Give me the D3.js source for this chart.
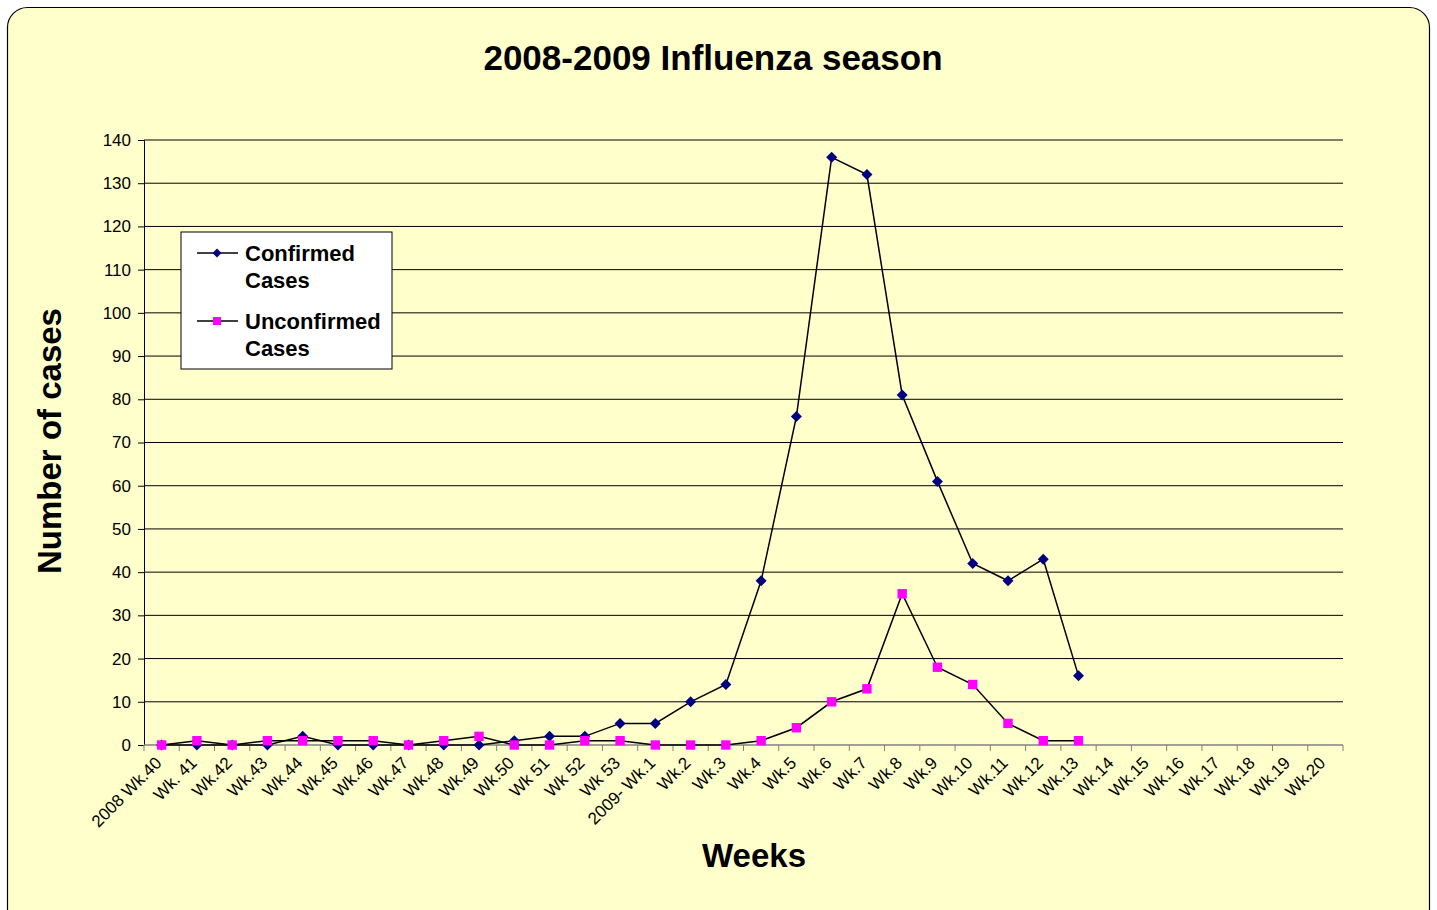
<!DOCTYPE html>
<html>
<head>
<meta charset="utf-8">
<script src="https://cdn.jsdelivr.net/npm/d3@7"></script>
<style>
  body { margin: 0; background: #fff; font-family: "Liberation Sans", Arial, sans-serif; }
</style>
</head>
<body>
<div id="chart"></div>
<script>
// week labels along the x axis
var weeks = ["2008 Wk.40", "Wk. 41", "Wk.42", "Wk.43", "Wk.44", "Wk.45", "Wk.46", "Wk.47",
  "Wk.48", "Wk.49", "Wk.50", "Wk 51", "Wk 52", "Wk 53", "2009- Wk.1", "Wk.2", "Wk.3",
  "Wk.4", "Wk.5", "Wk.6", "Wk.7", "Wk.8", "Wk.9", "Wk.10", "Wk.11", "Wk.12", "Wk.13",
  "Wk.14", "Wk.15", "Wk.16", "Wk.17", "Wk.18", "Wk.19", "Wk.20"];

var confirmed = [0, 0, 0, 0, 2, 0, 0, 0, 0, 0, 1, 2, 2, 5, 5, 10, 14, 38, 76, 136, 132, 81, 61, 42, 38, 43, 16];
var unconfirmed = [0, 1, 0, 1, 1, 1, 1, 0, 1, 2, 0, 0, 1, 1, 0, 0, 0, 1, 4, 10, 13, 35, 18, 14, 5, 1, 1];

var yTicks = [0, 10, 20, 30, 40, 50, 60, 70, 80, 90, 100, 110, 120, 130, 140];

var W = 1437, H = 910;
var margin = { left: 144, right: 94, top: 140, bottom: 165 };
var width = W - margin.left - margin.right;
var height = H - margin.top - margin.bottom;

var svg = d3.select("#chart").append("svg")
    .attr("width", W)
    .attr("height", H);

// chart area background
svg.append("rect")
    .attr("x", 7.5).attr("y", 7.5)
    .attr("width", 1422).attr("height", 930)
    .attr("rx", 20).attr("ry", 20)
    .attr("fill", "#ffffcc")
    .attr("stroke", "#000")
    .attr("stroke-width", 1.2);

svg.append("text")
    .attr("x", 713).attr("y", 70)
    .attr("text-anchor", "middle")
    .style("font-size", "35px").style("font-weight", "bold")
    .text("2008-2009 Influenza season");

var g = svg.append("g")
    .attr("transform", "translate(" + margin.left + "," + margin.top + ")");

var x = d3.scaleBand().domain(weeks).range([0, width]);
var y = d3.scaleLinear().domain([0, 140]).range([height, 0]);

// gridlines
g.selectAll(".grid")
    .data(yTicks.filter(function(d) { return d > 0; }))
    .enter().append("line")
    .attr("x1", 0).attr("x2", width)
    .attr("y1", function(d) { return y(d); })
    .attr("y2", function(d) { return y(d); })
    .attr("stroke", "#000")
    .attr("stroke-width", 1);

// y axis
var yAxis = d3.axisLeft(y).tickValues(yTicks).tickSize(6).tickPadding(7);
var ya = g.append("g").call(yAxis);
ya.select(".domain").attr("stroke", "#000");
ya.selectAll("text").style("font-size", "17px").style("font-family", "Liberation Sans, Arial, sans-serif").attr("fill", "#000");

// x axis: ticks between categories
var xa = g.append("g").attr("transform", "translate(0," + height + ")");
xa.append("line").attr("x1", 0).attr("x2", width).attr("stroke", "#808080").attr("stroke-width", 1.5);
xa.selectAll(".tk")
    .data(d3.range(weeks.length + 1))
    .enter().append("line")
    .attr("x1", function(i) { return i * x.step(); })
    .attr("x2", function(i) { return i * x.step(); })
    .attr("y1", 0).attr("y2", 6)
    .attr("stroke", "#808080");
xa.selectAll(".lbl")
    .data(weeks)
    .enter().append("text")
    .attr("text-anchor", "end")
    .attr("transform", function(d) {
        return "translate(" + (x(d) + x.bandwidth() / 2 + 1) + ",19) rotate(-45)";
    })
    .style("font-size", "17px")
    .text(function(d) { return d; });

// axis titles
svg.append("text")
    .attr("x", 754).attr("y", 867)
    .attr("text-anchor", "middle")
    .style("font-size", "33px").style("font-weight", "bold")
    .text("Weeks");

svg.append("text")
    .attr("transform", "translate(61,441) rotate(-90)")
    .attr("text-anchor", "middle")
    .style("font-size", "33px").style("font-weight", "bold")
    .text("Number of cases");

var line = d3.line()
    .x(function(d, i) { return x(weeks[i]) + x.bandwidth() / 2; })
    .y(function(d) { return y(d); });

function markerPath(shape, r) {
    if (shape === "diamond") return "M0," + (-r) + "L" + r + ",0L0," + r + "L" + (-r) + ",0Z";
    return "M" + (-r) + "," + (-r) + "H" + r + "V" + r + "H" + (-r) + "Z";
}

function drawSeries(data, shape, color, r) {
    g.append("path")
        .datum(data)
        .attr("fill", "none")
        .attr("stroke", "#000")
        .attr("stroke-width", 1.5)
        .attr("d", line);
    g.selectAll(".m" + shape)
        .data(data)
        .enter().append("path")
        .attr("transform", function(d, i) {
            return "translate(" + (x(weeks[i]) + x.bandwidth() / 2) + "," + y(d) + ")";
        })
        .attr("d", markerPath(shape, r))
        .attr("fill", color);
}

drawSeries(confirmed, "diamond", "#000080", 5.5);
drawSeries(unconfirmed, "square", "#ff00ff", 4.7);

// legend
var lg = svg.append("g").attr("transform", "translate(181,232)");
lg.append("rect")
    .attr("width", 211).attr("height", 137)
    .attr("fill", "#fff").attr("stroke", "#000");
var legendItems = [
    { lines: ["Confirmed", "Cases"], shape: "diamond", color: "#000080", r: 4.5, y: 21 },
    { lines: ["Unconfirmed", "Cases"], shape: "square", color: "#ff00ff", r: 4, y: 89 }
];
legendItems.forEach(function(it) {
    lg.append("line")
        .attr("x1", 16).attr("x2", 57)
        .attr("y1", it.y).attr("y2", it.y)
        .attr("stroke", "#000").attr("stroke-width", 1.5);
    lg.append("path")
        .attr("transform", "translate(36," + it.y + ")")
        .attr("d", markerPath(it.shape, it.r))
        .attr("fill", it.color);
    it.lines.forEach(function(t, j) {
        lg.append("text")
            .attr("x", 64).attr("y", it.y + 8 + j * 27)
            .style("font-size", "22px").style("font-weight", "bold")
            .text(t);
    });
});
</script>
</body>
</html>
